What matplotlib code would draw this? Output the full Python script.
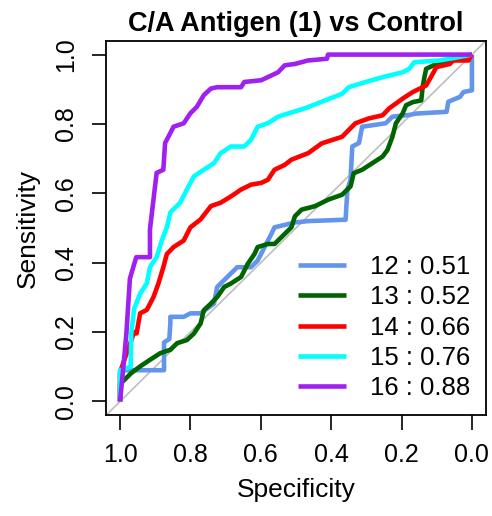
import numpy as np
import matplotlib.pyplot as plt

plt.rcParams['font.family'] = ['Liberation Sans', 'DejaVu Sans']

# ROC curves: specificity / sensitivity pairs
spec_12 = [1.0, 1.0, 0.875, 0.875, 0.86, 0.857, 0.857, 0.819, 0.80, 0.771, 0.733, 0.724, 0.695, 0.667,
           0.628, 0.609, 0.57, 0.561, 0.503, 0.465, 0.359, 0.354, 0.345, 0.34, 0.321, 0.312, 0.245,
           0.226, 0.178, 0.158, 0.072, 0.067, 0.034, 0.024, 0.0, 0.0]
sens_12 = [0.0, 0.09, 0.09, 0.17, 0.18, 0.225, 0.244, 0.244, 0.254, 0.254, 0.282, 0.33, 0.359, 0.387,
           0.387, 0.406, 0.483, 0.502, 0.516, 0.52, 0.524, 0.61, 0.639, 0.735, 0.745, 0.792, 0.802,
           0.821, 0.826, 0.83, 0.835, 0.864, 0.878, 0.892, 0.897, 1.0]

spec_13 = [1.0, 1.0, 0.968, 0.943, 0.915, 0.886, 0.857, 0.838, 0.81, 0.79, 0.771, 0.762, 0.742, 0.724,
           0.704, 0.685, 0.656, 0.637, 0.618, 0.609, 0.58, 0.561, 0.532, 0.513, 0.503, 0.484, 0.446,
           0.408, 0.369, 0.345, 0.336, 0.312, 0.283, 0.254, 0.24, 0.226, 0.216, 0.197, 0.187, 0.168,
           0.144, 0.14, 0.135, 0.13, 0.101, 0.063, 0.044, 0.0]
sens_13 = [0.0, 0.05, 0.082, 0.101, 0.12, 0.139, 0.149, 0.168, 0.177, 0.196, 0.225, 0.263, 0.282, 0.301,
           0.33, 0.34, 0.359, 0.397, 0.425, 0.445, 0.454, 0.454, 0.483, 0.502, 0.534, 0.553, 0.563,
           0.582, 0.596, 0.62, 0.658, 0.668, 0.687, 0.706, 0.725, 0.763, 0.802, 0.83, 0.854, 0.863,
           0.868, 0.906, 0.935, 0.959, 0.973, 0.978, 0.988, 1.0]

spec_14 = [1.0, 1.0, 0.997, 0.96, 0.953, 0.943, 0.924, 0.905, 0.891, 0.877, 0.867, 0.848, 0.819, 0.80,
           0.771, 0.742, 0.714, 0.685, 0.656, 0.628, 0.599, 0.58, 0.561, 0.532, 0.513, 0.465, 0.427,
           0.369, 0.331, 0.293, 0.254, 0.235, 0.197, 0.168, 0.13, 0.111, 0.101, 0.063, 0.053, 0.01, 0.0]
sens_14 = [0.0, 0.08, 0.093, 0.2, 0.196, 0.254, 0.264, 0.301, 0.34, 0.387, 0.425, 0.445, 0.464, 0.502,
           0.525, 0.563, 0.573, 0.591, 0.611, 0.625, 0.63, 0.639, 0.668, 0.682, 0.697, 0.716, 0.744,
           0.763, 0.802, 0.816, 0.825, 0.845, 0.873, 0.892, 0.911, 0.945, 0.964, 0.973, 0.983, 0.983, 1.0]

spec_15 = [1.0, 1.0, 0.97, 0.968, 0.96, 0.954, 0.943, 0.924, 0.915, 0.896, 0.881, 0.867, 0.857, 0.829,
           0.81, 0.79, 0.762, 0.733, 0.714, 0.685, 0.647, 0.628, 0.609, 0.58, 0.551, 0.523, 0.475,
           0.417, 0.369, 0.35, 0.302, 0.254, 0.197, 0.178, 0.164, 0.092, 0.063, 0.0]
sens_15 = [0.0, 0.09, 0.1, 0.196, 0.267, 0.282, 0.311, 0.34, 0.387, 0.416, 0.465, 0.502, 0.545, 0.573,
           0.611, 0.649, 0.668, 0.687, 0.716, 0.735, 0.735, 0.754, 0.792, 0.802, 0.821, 0.83, 0.845,
           0.868, 0.887, 0.906, 0.921, 0.935, 0.949, 0.959, 0.978, 0.983, 0.988, 1.0]

spec_16 = [1.0, 0.991, 0.982, 0.972, 0.954, 0.915, 0.915, 0.905, 0.896, 0.877, 0.872, 0.857, 0.848,
           0.819, 0.80, 0.782, 0.762, 0.742, 0.724, 0.656, 0.647, 0.599, 0.58, 0.551, 0.532, 0.503,
           0.466, 0.412, 0.409, 0.0]
sens_16 = [0.0, 0.095, 0.196, 0.354, 0.416, 0.416, 0.496, 0.582, 0.659, 0.668, 0.745, 0.774, 0.792,
           0.802, 0.831, 0.849, 0.883, 0.902, 0.906, 0.906, 0.921, 0.926, 0.935, 0.949, 0.969, 0.973,
           0.983, 0.988, 1.0, 1.0]

labels = ['12 : 0.51', '13 : 0.52', '14 : 0.66', '15 : 0.76', '16 : 0.88']
colors = ['#6495ED', '#006400', '#FF0000', '#00FFFF', '#A020F0']
specs = [spec_12, spec_13, spec_14, spec_15, spec_16]
senss = [sens_12, sens_13, sens_14, sens_15, sens_16]

fig = plt.figure(figsize=(4.92, 5.16), dpi=100)
ax = fig.add_axes([0.2154, 0.1951, 0.7724, 0.726])

# chance line, sens = 1 - spec, runs across the whole box
ax.axline((1.0, 0.0), (0.0, 1.0), color='#BEBEBE', lw=1.2, zorder=1)

for sp, se, c, lab in zip(specs, senss, colors, labels):
    ax.plot(sp, se, color=c, lw=3.3, label=lab, solid_capstyle='butt', zorder=2)

ax.set_xlim(1.04, -0.04)
ax.set_ylim(-0.04, 1.04)
ticks = [1.0, 0.8, 0.6, 0.4, 0.2, 0.0]
ax.set_xticks(ticks)
ax.set_xticklabels(['%.1f' % t for t in ticks])
ax.set_yticks(ticks)
ax.set_yticklabels(['%.1f' % t for t in ticks], rotation=90, va='center')
ax.tick_params(axis='x', labelsize=18, length=11, width=1.2, pad=9)
ax.tick_params(axis='y', labelsize=18, length=10, width=1.2, pad=10)
for s in ax.spines.values():
    s.set_linewidth(1.3)

ax.set_xlabel('Specificity', fontsize=19, labelpad=8)
ax.set_ylabel('Sensitivity', fontsize=19, labelpad=10)
ax.set_title('C/A Antigen (1) vs Control', fontsize=19.5, fontweight='bold', pad=7)

ax.legend(loc='lower right', frameon=False, fontsize=18.5, handlelength=1.85,
          handletextpad=0.95, labelspacing=0.24, borderaxespad=0.2)

fig.savefig('out.png', dpi=100)
